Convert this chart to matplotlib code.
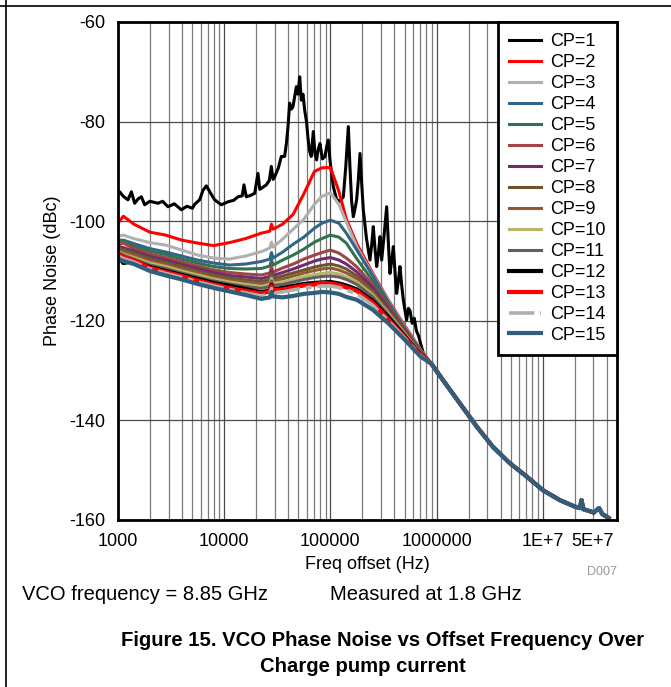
import matplotlib.pyplot as plt
from matplotlib.lines import Line2D
from matplotlib.transforms import ScaledTranslation
import numpy as np

plt.rcParams['font.family'] = ['Liberation Sans', 'DejaVu Sans']
plt.rcParams['axes.unicode_minus'] = False

# shared log10(freq) grid for CP=2..15 (before the common roll-off)
grid_dec = [3.00, 3.05, 3.15, 3.30, 3.45, 3.60, 3.75, 3.90, 4.05, 4.20, 4.35, 4.43, 4.445,
            4.46, 4.55, 4.65, 4.75, 4.85, 4.92, 5.00, 5.08, 5.15, 5.25, 5.40, 5.55, 5.70, 5.85]

# common roll-off above ~900 kHz
tail_dec = [5.95, 6.06, 6.22, 6.38, 6.53, 6.69, 6.85, 7.00, 7.16, 7.30, 7.35, 7.365, 7.38,
            7.48, 7.53, 7.56, 7.62]
tail_db = [-128.6, -131.9, -136.6, -141.3, -145.3, -148.6, -151.3, -154.0, -156.0, -157.3,
           -157.6, -156.0, -157.8, -158.5, -157.6, -158.8, -159.6]

cp1_dec = [3.000, 3.016, 3.05, 3.094, 3.126, 3.157, 3.19, 3.220, 3.251, 3.30, 3.377, 3.42,
           3.471, 3.53, 3.596, 3.65, 3.700, 3.722, 3.769, 3.80, 3.832, 3.87, 3.910, 3.973,
           4.036, 4.09, 4.130, 4.17, 4.186, 4.208, 4.25, 4.287, 4.318, 4.335, 4.350, 4.397,
           4.425, 4.444, 4.460, 4.475, 4.51, 4.538, 4.569, 4.585, 4.601, 4.616, 4.632, 4.648,
           4.665, 4.679, 4.695, 4.711, 4.726, 4.742, 4.758, 4.775, 4.79, 4.805, 4.82, 4.839,
           4.855, 4.87, 4.886, 4.902, 4.925, 4.949, 4.965, 4.98, 4.996, 5.012, 5.028, 5.045,
           5.059, 5.09, 5.122, 5.145, 5.169, 5.184, 5.20, 5.216, 5.232, 5.247, 5.262, 5.279,
           5.295, 5.31, 5.34, 5.373, 5.39, 5.404, 5.42, 5.436, 5.452, 5.467, 5.483, 5.505,
           5.53, 5.545, 5.561, 5.577, 5.593, 5.608, 5.624, 5.64, 5.655, 5.672, 5.687, 5.703,
           5.718, 5.735, 5.75, 5.77, 5.79, 5.81, 5.83, 5.85, 5.875, 5.91]
cp1_db = [-94.0, -94.1, -95.0, -95.7, -94.1, -96.4, -95.5, -95.1, -96.7, -96.0, -96.4, -96.0,
          -97.1, -96.5, -97.7, -97.0, -97.4, -96.6, -95.7, -93.8, -92.9, -94.3, -95.7, -96.7,
          -96.1, -95.8, -95.1, -94.9, -92.7, -95.1, -94.8, -94.4, -90.4, -93.6, -93.4, -92.7,
          -91.8, -89.0, -91.6, -91.1, -89.3, -87.0, -87.0, -84.5, -81.0, -76.3, -77.5, -77.0,
          -74.8, -73.0, -74.5, -71.0, -75.7, -74.5, -77.7, -80.0, -83.5, -86.0, -87.0, -82.0,
          -86.5, -87.7, -85.5, -84.4, -87.5, -87.0, -85.0, -83.7, -87.7, -90.5, -93.1, -94.5,
          -95.7, -96.0, -95.1, -89.0, -81.0, -89.0, -96.0, -99.1, -97.5, -95.7, -92.0, -86.4,
          -92.5, -97.7, -103.5, -107.8, -104.5, -101.1, -105.5, -109.1, -106.5, -103.1, -107.8, -103.0,
          -97.1, -104.0, -110.5, -108.0, -105.1, -110.0, -114.5, -112.0, -109.1, -113.0, -115.8, -118.0,
          -119.8, -117.5, -118.0, -120.5, -119.5, -122.0, -123.0, -124.6, -126.5, -127.8]

cp2_db = [-100.4, -99.0, -100.6, -102.2, -102.8, -103.8, -104.4, -104.9, -104.3, -103.5, -102.4, -102.0, -100.6,
          -101.6, -100.6, -98.6, -94.5, -90.0, -89.3, -89.2, -94.0, -99.6, -104.6, -110.5, -116.0, -121.0, -125.8]
cp3_db = [-103.0, -102.8, -103.5, -104.3, -104.8, -105.8, -106.8, -107.4, -107.6, -107.0, -106.1, -105.4, -104.2,
          -105.2, -103.6, -101.6, -99.6, -96.6, -95.0, -94.3, -96.6, -100.2, -105.2, -110.8, -116.2, -121.2, -125.9]
cp4_db = [-104.0, -103.8, -104.5, -105.5, -106.2, -107.0, -107.8, -108.4, -108.8, -108.6, -108.1, -107.6, -106.3,
          -107.4, -106.2, -104.6, -103.2, -101.4, -100.4, -99.8, -100.4, -102.4, -105.8, -111.0, -116.4, -121.4, -126.0]
cp5_db = [-103.6, -104.0, -105.0, -106.0, -106.7, -107.6, -108.4, -109.1, -109.5, -109.6, -109.5, -109.0, -107.8,
          -108.8, -107.8, -106.8, -105.6, -104.2, -103.5, -102.8, -103.2, -104.4, -107.6, -112.0, -116.8, -121.6, -126.1]
cp6_db = [-104.6, -104.4, -105.5, -106.6, -107.3, -108.2, -109.0, -109.8, -110.3, -110.6, -110.8, -110.4, -109.2,
          -110.2, -109.4, -108.6, -107.6, -106.8, -106.3, -105.8, -106.4, -107.4, -109.2, -112.8, -117.2, -121.8, -126.2]
cp7_db = [-105.0, -105.3, -106.0, -107.1, -107.8, -108.7, -109.5, -110.3, -110.9, -111.2, -111.5, -111.1, -110.0,
          -110.9, -110.3, -109.6, -108.8, -108.0, -107.6, -107.3, -107.8, -108.6, -110.2, -113.4, -117.6, -122.0, -126.3]
cp8_db = [-105.5, -105.6, -106.4, -107.5, -108.3, -109.1, -110.0, -110.8, -111.4, -111.8, -112.1, -111.7, -110.5,
          -111.5, -111.0, -110.4, -109.8, -109.2, -108.9, -108.6, -109.0, -109.6, -111.0, -114.0, -118.0, -122.2, -126.4]
cp9_db = [-106.0, -106.1, -106.9, -108.0, -108.7, -109.6, -110.4, -111.2, -111.8, -112.2, -112.6, -112.2, -111.0,
          -112.0, -111.6, -111.0, -110.4, -109.9, -109.6, -109.4, -109.8, -110.4, -111.6, -114.4, -118.3, -122.4, -126.5]
cp10_db = [-106.0, -106.6, -107.3, -108.4, -109.1, -110.0, -110.8, -111.6, -112.2, -112.7, -113.1, -112.7, -111.5,
           -112.5, -112.2, -111.7, -111.1, -110.7, -110.5, -110.3, -110.6, -111.2, -112.2, -114.8, -118.6, -122.6, -126.6]
cp11_db = [-106.2, -106.8, -107.6, -108.8, -109.5, -110.4, -111.2, -112.0, -112.6, -113.1, -113.5, -113.1, -112.0,
           -112.9, -112.7, -112.2, -111.7, -111.3, -111.1, -111.0, -111.2, -111.7, -112.7, -115.2, -118.9, -122.8, -126.7]
cp12_db = [-107.0, -108.4, -108.0, -109.2, -110.0, -110.8, -111.6, -112.4, -113.0, -113.6, -114.3, -113.9, -112.8,
           -113.7, -113.4, -113.0, -112.6, -112.4, -112.3, -112.2, -112.5, -112.9, -113.7, -116.0, -119.4, -123.1, -126.8]
cp13_db = [-106.6, -107.2, -107.8, -109.4, -110.2, -111.0, -111.9, -112.7, -113.4, -114.0, -114.5, -114.1, -113.0,
           -113.9, -113.7, -113.3, -112.9, -112.7, -112.4, -112.5, -112.8, -113.3, -114.0, -116.4, -119.8, -123.3, -126.9]
cp14_db = [-107.0, -107.5, -108.2, -109.6, -110.5, -111.3, -112.2, -113.0, -113.7, -114.4, -115.0, -114.6, -113.5,
           -114.4, -114.2, -113.8, -113.4, -113.2, -113.0, -113.0, -113.3, -113.8, -114.6, -116.9, -120.1, -123.5, -127.0]
cp15_db = [-107.5, -108.0, -108.6, -110.0, -110.9, -111.7, -112.6, -113.4, -114.1, -114.8, -115.6, -115.3, -114.2,
           -115.1, -115.3, -115.0, -114.6, -114.4, -114.2, -114.3, -114.6, -115.2, -115.8, -117.8, -120.6, -123.8, -127.2]

labels = ['CP=%d' % i for i in range(1, 16)]
colors = ['#000000', '#ff0000', '#b0b0b0', '#33658a', '#2f7350', '#a04444', '#6e2c6e', '#6b5530',
          '#8f5a32', '#b9b56c', '#606060', '#000000', '#ff0000', '#b0b0b0', '#2f5f7c']
widths = [2.2] * 11 + [3.0, 3.0, 2.6, 3.0]

x_ticks = [1e3, 1e4, 1e5, 1e6, 1e7, 5e7]
x_labels = ['1000', '10000', '100000', '1000000', '1E+7', '5E+7']

fig = plt.figure(figsize=(6.71, 6.87), dpi=100)
W, H = 671.0, 687.0
ax = fig.add_axes([118 / W, 1 - 520 / H, (617 - 118) / W, (520 - 22) / H])

all_db = [cp1_db, cp2_db, cp3_db, cp4_db, cp5_db, cp6_db, cp7_db, cp8_db, cp9_db, cp10_db,
          cp11_db, cp12_db, cp13_db, cp14_db, cp15_db]

for i, db in enumerate(all_db):
    dec = cp1_dec if i == 0 else grid_dec
    f = 10 ** np.array(list(dec) + tail_dec)
    y = np.array(list(db) + tail_db)
    ls = (0, (7, 1.6, 1.6, 1.6)) if i == 13 else '-'
    ax.plot(f, y, color=colors[i], lw=widths[i], linestyle=ls, label=labels[i],
            solid_joinstyle='round')

ax.set_xscale('log')
ax.set_xlim(1e3, 5e7)
ax.set_ylim(-160, -60)
ax.set_yticks(np.arange(-160, -59, 20))
ax.set_xticks(x_ticks)
ax.set_xticklabels(x_labels)
ax.xaxis.set_minor_formatter(plt.NullFormatter())
ax.tick_params(which='both', length=0, labelsize=13, pad=9)

# last label sits left of its tick, as in the original
last = ax.get_xticklabels()[-1]
last.set_horizontalalignment('right')
last.set_transform(last.get_transform() + ScaledTranslation(-0.03, 0, fig.dpi_scale_trans))

ax.grid(True, which='major', axis='both', color='#4a4a4a', lw=0.9)
ax.grid(True, which='minor', axis='x', color='#7a7a7a', lw=0.9)
ax.set_axisbelow(True)
for s in ax.spines.values():
    s.set_linewidth(2.0)
    s.set_color('black')

ax.set_xlabel('Freq offset (Hz)', fontsize=13, labelpad=5)
ax.set_ylabel('Phase Noise (dBc)', fontsize=13, labelpad=6)

leg = ax.legend(loc='upper right', borderaxespad=0, fontsize=13, handlelength=1.8,
                handletextpad=0.5, labelspacing=0.22, borderpad=0.62, fancybox=False,
                framealpha=1, edgecolor='black')
leg.get_frame().set_linewidth(2.0)

fig.text(617 / W, 1 - 572 / H, 'D007', fontsize=9, color='#999999', ha='right', va='center')

narrow = ['Liberation Sans Narrow', 'Liberation Sans', 'DejaVu Sans']
fig.text(22 / W, 1 - 594 / H, 'VCO frequency = 8.85 GHz', fontsize=14.5, family=narrow,
         ha='left', va='center')
fig.text(330 / W, 1 - 594 / H, 'Measured at 1.8 GHz', fontsize=14.5, family=narrow,
         ha='left', va='center')
fig.text(383 / W, 1 - 640 / H, 'Figure 15. VCO Phase Noise vs Offset Frequency Over',
         fontsize=14.6, family=narrow, weight='bold', ha='center', va='center')
fig.text(363 / W, 1 - 667 / H, 'Charge pump current', fontsize=14.6, family=narrow,
         weight='bold', ha='center', va='center')

# page frame lines (top and left)
fig.add_artist(Line2D([0, 1], [1 - 6 / H, 1 - 6 / H], color='black', lw=1.2))
fig.add_artist(Line2D([6 / W, 6 / W], [0, 1], color='black', lw=1.2))

fig.savefig('out.png', dpi=100)
